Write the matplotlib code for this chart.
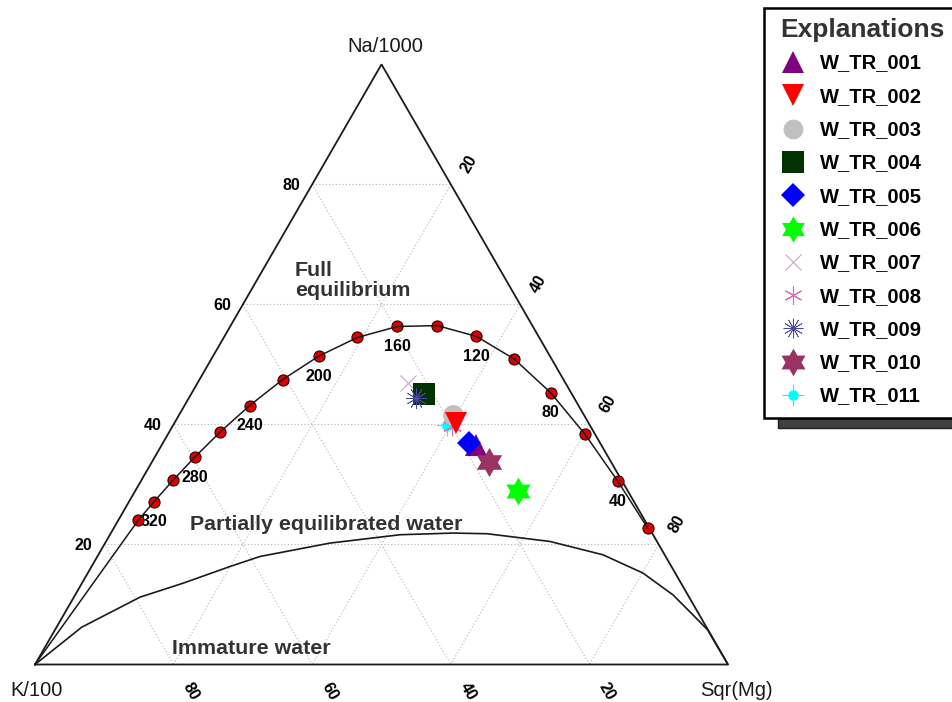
import numpy as np
import matplotlib
matplotlib.use("Agg")
import matplotlib.pyplot as plt
from matplotlib.path import Path
from matplotlib.patches import Rectangle

plt.rcParams['font.family'] = ['Liberation Sans', 'DejaVu Sans']

# ---------------- data (Na/1000, K/100, sqrt(Mg) as percent) ----------------
grid_ticks = [20, 40, 60, 80]

# full equilibrium line, one point per 20 degC
eq_temp = [20, 40, 60, 80, 100, 120, 140, 160, 180, 200, 220, 240, 260, 280, 300, 320, 340]
eq_na = [22.73, 30.56, 38.33, 45.30, 50.89, 54.67, 56.47, 56.32, 54.49, 51.39, 47.47, 43.15,
         38.77, 34.56, 30.66, 27.15, 24.03]
eq_k = [0.23, 0.63, 1.45, 2.95, 5.39, 8.96, 13.72, 19.57, 26.24, 33.36, 40.53, 47.45,
        53.87, 59.66, 64.78, 69.24, 73.08]
eq_mg = [77.04, 68.81, 60.22, 51.75, 43.72, 36.37, 29.81, 24.11, 19.27, 15.26, 12.00, 9.40,
         7.36, 5.78, 4.56, 3.61, 2.88]
eq_labeled = [40, 80, 120, 160, 200, 240, 280, 320]

# boundary between partially equilibrated and immature waters
im_na = [0.0, 6.21, 11.22, 13.56, 16.33, 18.00, 20.23, 21.62, 21.90, 21.79, 20.50, 18.28,
         15.23, 11.60, 8.26, 5.76, 0.0]
im_k = [100.0, 90.16, 79.24, 71.82, 63.69, 58.53, 47.32, 36.52, 28.73, 23.88, 15.44, 8.90,
        4.65, 2.14, 0.92, 0.05, 0.0]
im_mg = [0.0, 3.63, 9.54, 14.62, 19.98, 23.47, 32.45, 41.86, 49.37, 54.33, 64.06, 72.82,
         80.12, 86.26, 90.82, 94.19, 100.0]

# water samples
samples = ['W_TR_001', 'W_TR_002', 'W_TR_003', 'W_TR_004', 'W_TR_005', 'W_TR_006',
           'W_TR_007', 'W_TR_008', 'W_TR_009', 'W_TR_010', 'W_TR_011']
s_na = [36.64, 40.32, 41.65, 45.11, 36.93, 28.85, 46.94, 39.82, 44.44, 33.76, 39.98]
s_k = [18.04, 19.13, 18.82, 21.27, 18.86, 15.92, 22.66, 19.92, 22.80, 17.56, 20.52]
s_mg = [45.32, 40.55, 39.53, 33.62, 44.21, 55.23, 30.40, 40.26, 32.76, 48.68, 39.50]

# ---------------- styles ----------------
star6 = Path.unit_regular_star(6, 0.577)
styles = [
    dict(marker='^', color='#800080', ms=16, mew=0, z=6),
    dict(marker='v', color='#ff0000', ms=16.5, mew=0, z=8),
    dict(marker='o', color='#c0c0c0', ms=15, mew=0, z=6),
    dict(marker='s', color='#003300', ms=16.5, mew=0, z=6),
    dict(marker='D', color='#0000ff', ms=12.5, mew=0, z=8),
    dict(marker=star6, color='#00ff00', ms=20, mew=0, z=6),
    dict(marker='x', color='#c8a0e0', ms=12, mew=0.8, z=5),
    dict(marker=(6, 2, 0), color='#d070b8', ms=14, mew=0.8, z=5.5),
    dict(marker=(12, 2, 0), color='#4848a0', ms=15, mew=0.5, z=7),
    dict(marker=star6, color='#993366', ms=21, mew=0, z=7.5),
    dict(marker='o', color='#00ffff', ms=8, mew=0, z=5),
]

W, H = 953, 702
S = 6.93            # pixels per percent unit
X0, Y0 = 35, 664.5  # pixel position of the K/100 corner


def tern(na, k, mg):
    na = np.asarray(na, float)
    k = np.asarray(k, float)
    mg = np.asarray(mg, float)
    tot = na + k + mg
    na, mg = 100 * na / tot, 100 * mg / tot
    return mg + na / 2, na * np.sqrt(3) / 2


fig = plt.figure(figsize=(W / 100, H / 100), dpi=100)
ax = fig.add_axes([0, 0, 1, 1])
ax.set_xlim(-X0 / S, (W - X0) / S)
ax.set_ylim((Y0 - H) / S, Y0 / S)
ax.axis('off')

# grid
gkw = dict(color='#b4b4b4', lw=0.8, ls=(0, (1, 2)), zorder=1)
for v in grid_ticks:
    x, y = tern([v, v], [100 - v, 0], [0, 100 - v])
    ax.plot(x, y, **gkw)
    x, y = tern([100 - v, 0], [v, v], [0, 100 - v])
    ax.plot(x, y, **gkw)
    x, y = tern([100 - v, 0], [0, 100 - v], [v, v])
    ax.plot(x, y, **gkw)

# triangle
tx, ty = tern([0, 0, 100, 0], [100, 0, 0, 100], [0, 100, 0, 0])
ax.plot(tx, ty, color='#1a1a1a', lw=1.3, zorder=3, solid_joinstyle='miter')

# tick labels
tkw = dict(fontsize=11.5, fontweight='bold', color='black', ha='center', va='center')
for v in grid_ticks:
    x, y = tern(v, 100 - v, 0)
    ax.text(x - 21 / S, y - 1 / S, str(v), **tkw)
    x, y = tern(100 - v, 0, v)
    ax.text(x + 18.7 / S, y + 20 / S, str(v), rotation=60, **tkw)
    x, y = tern(0, v, 100 - v)
    ax.text(x + 17.5 / S, y - 27 / S, str(v), rotation=-60, **tkw)

# immature water boundary
ix, iy = tern(im_na, im_k, im_mg)
ax.plot(ix, iy, color='#1a1a1a', lw=1.2, zorder=3)

# full equilibrium line from the K corner through the temperature points
ex, ey = tern(eq_na, eq_k, eq_mg)
kx, ky = tern(0, 100, 0)
ax.plot(ex, ey, 'o', ms=8, mfc='#dd0000', mec='#300000', mew=0.8, zorder=4)
ax.plot(np.r_[ex, kx], np.r_[ey, ky], color='#1a1a1a', lw=1.1, zorder=4.5)
for t, x, y in zip(eq_temp, ex, ey):
    if t in eq_labeled:
        ax.text(x, y - 20 / S, str(t), **tkw)

# samples
sx, sy = tern(s_na, s_k, s_mg)
for i, st in enumerate(styles):
    ax.plot(sx[i], sy[i], linestyle='none', marker=st['marker'], ms=st['ms'],
            color=st['color'], mec=st['color'], mew=st['mew'], zorder=st['z'])
ax.plot(sx[10], sy[10], marker='+', ms=16, color='#00ffff', mew=0.8, zorder=5)

# corner labels
ckw = dict(fontsize=14.5, color='#1a1a1a', ha='center', va='center')
ax.text((385 - X0) / S, (Y0 - 46.5) / S, 'Na/1000', **ckw)
ax.text((36.5 - X0) / S, (Y0 - 690) / S, 'K/100', **ckw)
ax.text((736.5 - X0) / S, (Y0 - 690) / S, 'Sqr(Mg)', **ckw)

# field labels
fkw = dict(fontsize=15.4, fontweight='bold', color='#333333')
ax.text((295 - X0) / S, (Y0 - 261) / S, 'Full\nequilibrium', ha='left', va='top',
        linespacing=1.05, **fkw)
ax.text((326 - X0) / S, (Y0 - 524) / S, 'Partially equilibrated water',
        ha='center', va='center', **fkw)
ax.text((251 - X0) / S, (Y0 - 649) / S, 'Immature water', ha='center', va='center', **fkw)

# ---------------- legend box (pixel coordinates) ----------------
lax = fig.add_axes([0, 0, 1, 1])
lax.set_xlim(0, W)
lax.set_ylim(H, 0)
lax.axis('off')
lax.set_facecolor('none')
lax.add_patch(Rectangle((778, 18), 200, 410, facecolor='#404040', edgecolor='#202020',
                        lw=1.0, zorder=1))
lax.add_patch(Rectangle((764, 8), 200, 410, facecolor='white', edgecolor='black',
                        lw=1.8, zorder=2))
lax.text(780, 37.5, 'Explanations', fontsize=19, fontweight='bold', color='#333333',
         ha='left', va='baseline', zorder=3)
row0, dy = 62, 33.3
for i, (name, st) in enumerate(zip(samples, styles)):
    yy = row0 + i * dy
    lax.plot(793, yy, linestyle='none', marker=st['marker'], ms=st['ms'] * 0.95,
             color=st['color'], mec=st['color'], mew=st['mew'], zorder=3)
    if i == 10:
        lax.plot(793, yy, marker='+', ms=16, color='#00ffff', mew=0.8, zorder=3)
    lax.text(820, yy + 6.5, name, fontsize=14.5, fontweight='bold', color='black',
             ha='left', va='baseline', zorder=3)

fig.savefig('out.png', dpi=100, facecolor='white')
